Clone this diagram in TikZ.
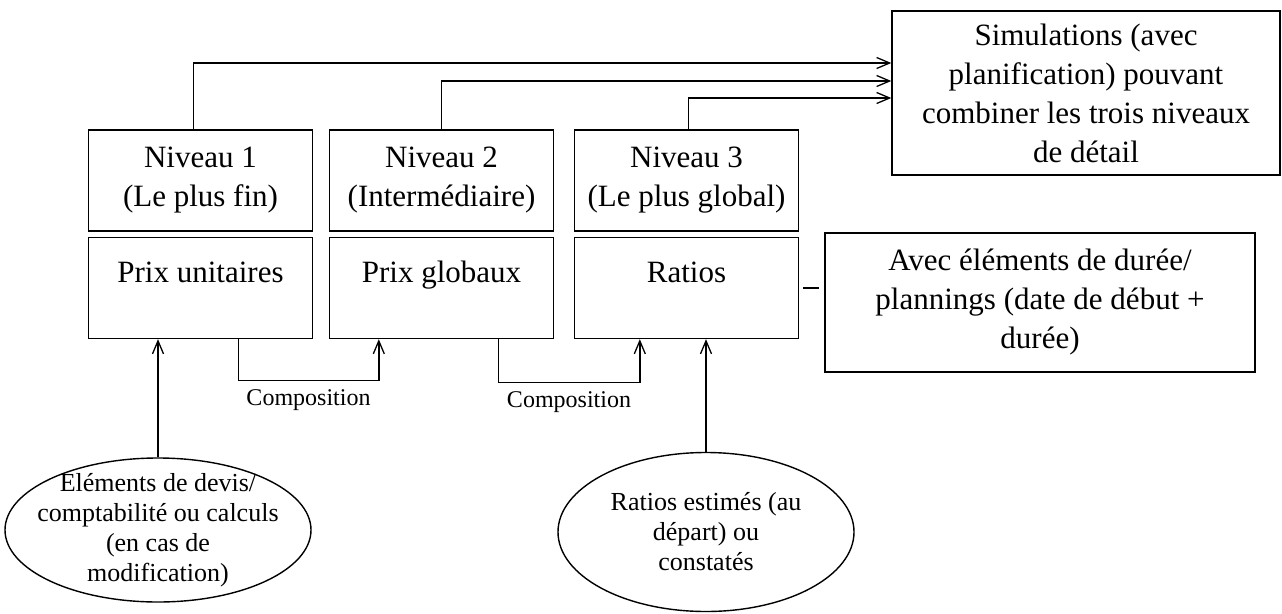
\documentclass[tikz,border=0pt]{standalone}
\usepackage{fontspec}
\setmainfont{Liberation Serif}
\usetikzlibrary{shapes.geometric,arrows.meta}

\begin{document}
\begin{tikzpicture}[x=1pt,y=-1pt,line width=1.4pt,>={Straight Barb[length=13pt,width=11pt,line width=1.3pt]}]
		\tikzstyle{box}=[rectangle,draw=black,inner sep=0,font=\fontsize{31}{39}\selectfont,align=center]
		\tikzstyle{niveau}=[box,minimum width=224pt,minimum height=101pt]
		\tikzstyle{prix}=[niveau,text height=22pt,text depth=34pt]
		\tikzstyle{source}=[ellipse,draw=black,font=\fontsize{26}{30}\selectfont,align=center]
		\tikzstyle{compo}=[below=5pt,font=\fontsize{24}{28}\selectfont]
		\useasboundingbox (0,0) rectangle (1282,613);

		\foreach \i/\x/\titre/\prixtxt in {1/200.5/{(Le plus fin)}/{Prix unitaires},2/441.5/{(Intermédiaire)}/{Prix globaux},3/686.5/{(Le plus global)}/{Ratios}}
		{
			\node[niveau] (niv\i) at (\x,180.5) {Niveau \i\\\titre};
			\node[prix] (prix\i) at (\x,288) {\prixtxt};
		}

		\node[box,minimum width=388pt,minimum height=164pt] (sim) at (1086,93)
			{Simulations (avec\\planification) pouvant\\combiner les trois niveaux\\de détail};
		\node[box,minimum width=430pt,minimum height=139pt] (duree) at (1040,302.5)
			{Avec éléments de durée/\\plannings (date de début +\\durée)};

		\node[source,minimum width=306pt,minimum height=144pt,inner xsep=-14pt,inner ysep=-8pt] (devis) at (158,530)
			{Eléments de devis/\\comptabilité ou calculs\\(en cas de\\modification)};
		\node[source,minimum width=296pt,minimum height=159pt,inner sep=0pt] (estim) at (706,532)
			{Ratios estimés (au\\départ) ou\\constatés};

		\draw[->] ([xshift=-7pt]niv1.north) |- ([yshift=30pt]sim.west);
		\draw[->] (niv2.north) |- ([yshift=12pt]sim.west);
		\draw[->] ([xshift=2pt]niv3.north) |- ([yshift=-5pt]sim.west);

		\draw[->] ([xshift=-75pt]prix1.south east) -- ++(0,41) -| node[compo,pos=0.25] (comp1) {Composition} ([xshift=50pt]prix2.south west);
		\draw[->] ([xshift=-56pt]prix2.south east) -- ++(0,43) -| node[compo,pos=0.25] (comp2) {Composition} ([xshift=66pt]prix3.south west);

		\draw[->] (devis.north) -- (devis.north |- prix1.south);
		\draw[->] (estim.north) -- (estim.north |- prix3.south);

		\draw[shorten <=4pt,shorten >=5pt] (prix3.east) -- (prix3.east -| duree.west);
	\end{tikzpicture}
\end{document}
